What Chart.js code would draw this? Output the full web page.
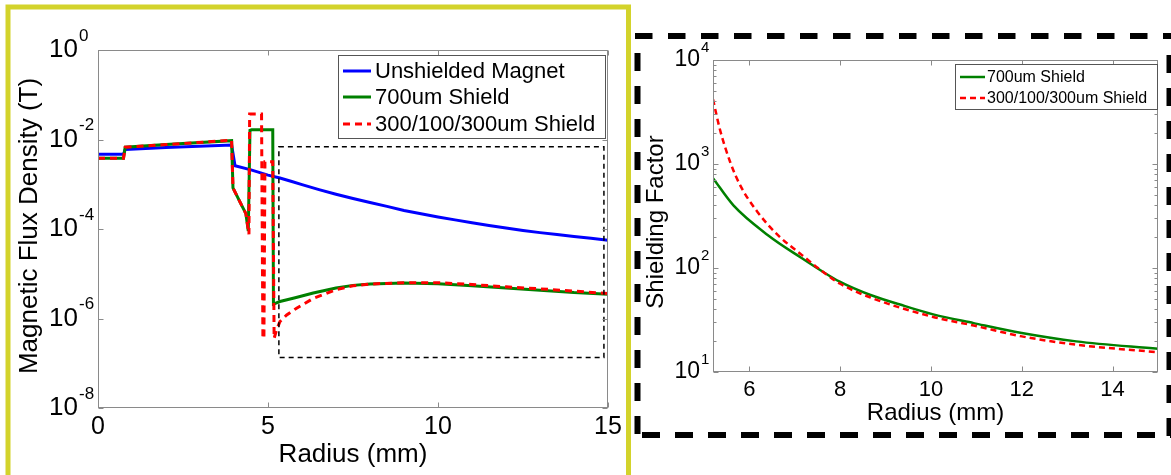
<!DOCTYPE html>
<html>
<head>
<meta charset="utf-8">
<script src="https://cdn.jsdelivr.net/npm/chart.js@4.4.1/dist/chart.umd.min.js"></script>
<style>
html,body{margin:0;padding:0;background:#fff;}
body{width:1171px;height:475px;position:relative;overflow:hidden;}
#leftBox{position:absolute;left:0;top:0;width:632px;height:475px;}
#rightBox{position:absolute;left:632px;top:0;width:539px;height:475px;}
#frames{position:absolute;left:0;top:0;pointer-events:none;}
</style>
</head>
<body>
<div id="leftBox"><canvas id="fluxChart"></canvas></div>
<div id="rightBox"><canvas id="shieldChart"></canvas></div>
<svg id="frames" width="1171" height="475">
  <path d="M8,480 V7 H628.5 V480" fill="none" stroke="#d3d32b" stroke-width="5"/>
  <line x1="635" y1="36" x2="1171" y2="36" stroke="#000" stroke-width="6" stroke-dasharray="17.5 15.5"/>
  <line x1="637.5" y1="53" x2="637.5" y2="436" stroke="#000" stroke-width="6" stroke-dasharray="18 15"/>
  <line x1="1169.5" y1="55" x2="1169.5" y2="438" stroke="#000" stroke-width="6" stroke-dasharray="18 15"/>
  <line x1="642" y1="435" x2="1171" y2="435" stroke="#000" stroke-width="6" stroke-dasharray="18 15"/>
</svg>
<script>
// ---- left panel: flux density vs radius ----
const unshieldedR = [0, 0.75, 0.8, 2, 3.93, 4.03, 4.5, 5, 5.35, 5.7, 6, 6.5, 7, 7.5, 8, 8.5, 9, 9.5, 10, 10.5, 11, 11.5, 12, 12.5, 13, 13.5, 14, 14.5, 15];
const unshieldedB = [4.7e-3, 4.7e-3, 6.0e-3, 6.6e-3, 7.5e-3, 2.6e-3, 2.1e-3, 1.6e-3, 1.38e-3, 1.15e-3, 9.8e-4, 7.6e-4, 6.0e-4, 4.8e-4, 3.9e-4, 3.2e-4, 2.6e-4, 2.2e-4, 1.86e-4, 1.6e-4, 1.38e-4, 1.2e-4, 1.05e-4, 9.3e-5, 8.3e-5, 7.5e-5, 6.8e-5, 6.2e-5, 5.6e-5];

const shield700R = [0, 0.75, 0.8, 2, 3.93, 3.97, 4.2, 4.35, 4.42, 4.47, 4.52, 5.14, 5.16, 5.35, 5.8, 6.33, 7, 7.5, 8, 9, 10, 11, 12, 13, 14, 15];
const shield700B = [3.8e-3, 3.8e-3, 6.7e-3, 7.7e-3, 9.4e-3, 8.3e-4, 3.7e-4, 2.2e-4, 9e-5, 1.6e-2, 1.65e-2, 1.65e-2, 2.1e-6, 2.4e-6, 2.9e-6, 3.7e-6, 4.8e-6, 5.5e-6, 5.9e-6, 6.2e-6, 6.0e-6, 5.4e-6, 4.8e-6, 4.3e-6, 3.8e-6, 3.5e-6];

const shieldMultiR = [0, 0.75, 0.8, 2, 3.93, 3.97, 4.2, 4.35, 4.44, 4.46, 4.81, 4.85, 4.88, 4.91, 5.14, 5.18, 5.25, 5.35, 5.55, 5.84, 6.33, 7, 7.5, 8, 9, 10, 11, 12, 13, 14, 15];
const shieldMultiB = [3.8e-3, 3.8e-3, 6.7e-3, 7.7e-3, 9.6e-3, 8.3e-4, 3.7e-4, 2.2e-4, 7.6e-5, 3.7e-2, 3.7e-2, 3.6e-7, 3.6e-7, 3.2e-3, 3.2e-3, 3.6e-7, 5.5e-7, 8.5e-7, 1.2e-6, 1.7e-6, 2.8e-6, 4.4e-6, 5.4e-6, 5.9e-6, 6.3e-6, 6.3e-6, 5.75e-6, 5.1e-6, 4.6e-6, 4.1e-6, 3.6e-6];

const fluxXTicks = [0, 5, 10, 15];
const fluxYExps = [0, -2, -4, -6, -8];
const zoomBoxR = [5.32, 14.88];
const zoomBoxB = [1.35e-7, 6.9e-3];

// ---- right panel: shielding factor vs radius ----
const sf700R = [5.2, 5.65, 6.41, 7.16, 7.62, 7.99, 8.67, 9.43, 10.03, 10.94, 12.0, 13.2, 15];
const sf700 = [731, 400, 207, 124, 92, 74, 55, 43, 36, 29.5, 23.7, 19.7, 16.7];
const sfMultiR = [5.2, 5.35, 5.58, 5.8, 6.18, 6.63, 7.16, 7.62, 7.99, 8.67, 10.03, 10.94, 12.0, 13.2, 15];
const sfMulti = [4200, 2170, 1040, 622, 346, 207, 133, 92, 71, 52, 34, 28, 22, 18.3, 15.5];

const sfXTicks = [6, 8, 10, 12, 14];
const sfYExps = [1, 2, 3, 4];

const FONT = '"Liberation Sans", Arial, sans-serif';
const AXIS_GREY = '#8a8a8a';

function pts(xs, ys){ return xs.map((v,i)=>({x:v, y:ys[i]})); }

function line(label, xs, ys, color, width, dash, order, smooth){
  const ds = {label, data:pts(xs,ys), borderColor:color, borderWidth:width, borderDash:dash,
    pointRadius:0, fill:false, order, tension:0};
  if(smooth) ds.cubicInterpolationMode = 'monotone';
  return ds;
}

// axes box, inward ticks, 10^n labels, titles and legend drawn the matlab way
const matlabFrame = {
  id:'matlabFrame',
  afterDatasetsDraw(chart, args, o){
    const {ctx, chartArea:a} = chart;
    const xs = chart.scales.x, ys = chart.scales.y;
    const L = Math.round(a.left)+0.5, R = Math.round(a.right)-0.5;
    const T = Math.round(a.top)+0.5, B = Math.round(a.bottom)-0.5;
    ctx.save();

    if(o.zoomBox){
      const x0 = xs.getPixelForValue(o.zoomBox.r[0]), x1 = xs.getPixelForValue(o.zoomBox.r[1]);
      const y0 = ys.getPixelForValue(o.zoomBox.b[1]), y1 = ys.getPixelForValue(o.zoomBox.b[0]);
      ctx.strokeStyle = '#000'; ctx.lineWidth = 1.5; ctx.setLineDash([5,4]);
      ctx.strokeRect(x0, y0, x1-x0, y1-y0);
      ctx.setLineDash([]);
    }

    ctx.strokeStyle = AXIS_GREY; ctx.lineWidth = 1;
    ctx.strokeRect(L, T, R-L, B-T);
    ctx.beginPath();
    o.xTicks.forEach(v=>{
      const p = Math.round(xs.getPixelForValue(v))+0.5;
      ctx.moveTo(p,B); ctx.lineTo(p,B-o.tickLen);
      ctx.moveTo(p,T); ctx.lineTo(p,T+o.tickLen);
    });
    o.yExps.forEach(e=>{
      const p = Math.round(ys.getPixelForValue(Math.pow(10,e)))+0.5;
      ctx.moveTo(L,p); ctx.lineTo(L+o.tickLen,p);
      ctx.moveTo(R,p); ctx.lineTo(R-o.tickLen,p);
      if(o.minor && e < o.yExps[o.yExps.length-1]){
        for(let m=2;m<10;m++){
          const q = Math.round(ys.getPixelForValue(m*Math.pow(10,e)))+0.5;
          ctx.moveTo(L,q); ctx.lineTo(L+o.minorLen,q);
          ctx.moveTo(R,q); ctx.lineTo(R-o.minorLen,q);
        }
      }
    });
    ctx.stroke();

    ctx.fillStyle = '#000'; ctx.textBaseline = 'middle';
    o.yExps.forEach(e=>{
      const p = ys.getPixelForValue(Math.pow(10,e));
      ctx.font = o.tickSize+'px '+FONT; ctx.textAlign = 'right';
      ctx.fillText('10', o.labelRight, p);
      ctx.font = o.supSize+'px '+FONT; ctx.textAlign = 'left';
      ctx.fillText(String(e), o.labelRight+1, p+o.supDy);
    });
    ctx.font = o.xTickSize+'px '+FONT; ctx.textAlign = 'center';
    o.xTicks.forEach(v=>ctx.fillText(String(v), xs.getPixelForValue(v), o.xLabelY));

    ctx.font = o.titleSize+'px '+FONT;
    ctx.fillText('Radius (mm)', (a.left+a.right)/2, o.xTitleY);
    ctx.save();
    ctx.translate(o.yTitleX, o.yTitleY); ctx.rotate(-Math.PI/2);
    ctx.fillText(o.yTitle, 0, 0);
    ctx.restore();

    // legend
    const lg = o.legend;
    ctx.fillStyle = '#fff'; ctx.fillRect(lg.x, lg.y, lg.w, lg.h);
    ctx.strokeStyle = '#555'; ctx.lineWidth = 1;
    ctx.strokeRect(lg.x+0.5, lg.y+0.5, lg.w, lg.h);
    ctx.font = lg.size+'px '+FONT; ctx.textAlign = 'left';
    chart.data.datasets.forEach((ds,i)=>{
      const yy = lg.rows[i];
      ctx.strokeStyle = ds.borderColor; ctx.lineWidth = ds.borderWidth;
      ctx.setLineDash(ds.borderDash || []);
      ctx.beginPath(); ctx.moveTo(lg.lineX0, yy); ctx.lineTo(lg.lineX1, yy); ctx.stroke();
      ctx.setLineDash([]);
      ctx.fillStyle = '#000'; ctx.fillText(ds.label, lg.textX, yy+1);
    });
    ctx.restore();
  }
};

const hiddenScales = (xmin, xmax, ymin, ymax) => ({
  x:{type:'linear', min:xmin, max:xmax, display:false},
  y:{type:'logarithmic', min:ymin, max:ymax, display:false}
});

new Chart(document.getElementById('fluxChart'), {
  type:'line',
  data:{datasets:[
    line('Unshielded Magnet', unshieldedR, unshieldedB, '#0000ff', 3, [], 2, false),
    line('700um Shield', shield700R, shield700B, '#008000', 3, [], 1, false),
    line('300/100/300um Shield', shieldMultiR, shieldMultiB, '#ff0000', 3, [7,5], 0, false)
  ]},
  options:{
    responsive:true, maintainAspectRatio:false, animation:false,
    layout:{padding:{left:98, top:50, right:24, bottom:67}},
    scales:hiddenScales(0, 15, 1e-8, 1),
    plugins:{legend:{display:false}, tooltip:{enabled:false},
      matlabFrame:{
        xTicks:fluxXTicks, yExps:fluxYExps, tickLen:5, minor:false,
        labelRight:78, tickSize:26, supSize:17, supDy:-14,
        xTickSize:25, xLabelY:427, titleSize:26, xTitleY:455,
        yTitle:'Magnetic Flux Density (T)', yTitleX:30, yTitleY:226,
        zoomBox:{r:zoomBoxR, b:zoomBoxB},
        legend:{x:338, y:55, w:267, h:83, rows:[71,97,124], lineX0:343, lineX1:371, textX:375, size:22}
      }}
  },
  plugins:[matlabFrame]
});

new Chart(document.getElementById('shieldChart'), {
  type:'line',
  data:{datasets:[
    line('700um Shield', sf700R, sf700, '#008000', 2.5, [], 1, true),
    line('300/100/300um Shield', sfMultiR, sfMulti, '#ff0000', 2.5, [6,4], 0, true)
  ]},
  options:{
    responsive:true, maintainAspectRatio:false, animation:false,
    layout:{padding:{left:81, top:60, right:13, bottom:103}},
    scales:hiddenScales(5.2, 15, 10, 10000),
    plugins:{legend:{display:false}, tooltip:{enabled:false},
      matlabFrame:{
        xTicks:sfXTicks, yExps:sfYExps, tickLen:5, minor:true, minorLen:3,
        labelRight:68, tickSize:23, supSize:15, supDy:-12,
        xTickSize:22, xLabelY:390, titleSize:24, xTitleY:413,
        yTitle:'Shielding Factor', yTitleX:24, yTitleY:222,
        legend:{x:323, y:64, w:202, h:45, rows:[77,98], lineX0:328, lineX1:353, textX:355, size:16}
      }}
  },
  plugins:[matlabFrame]
});
</script>
</body>
</html>
